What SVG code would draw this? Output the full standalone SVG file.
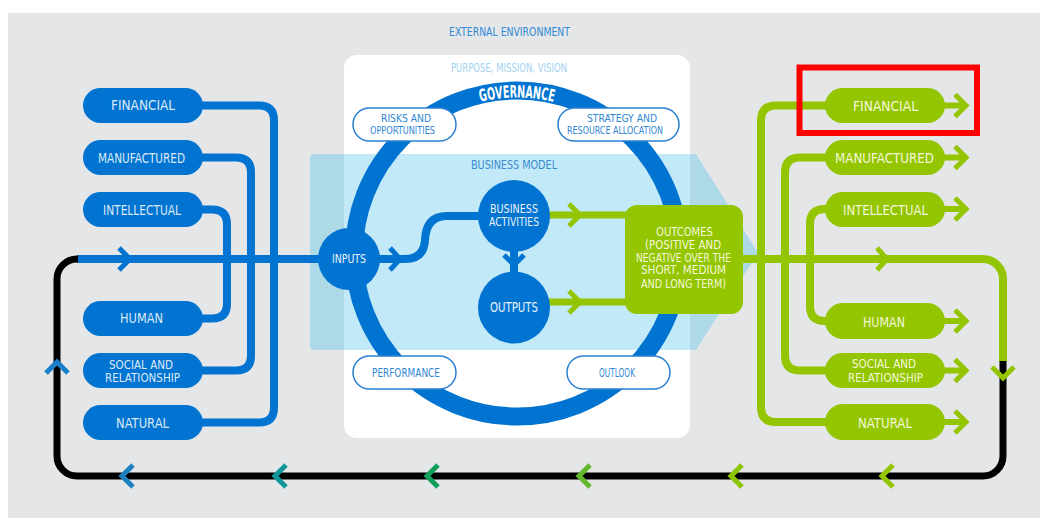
<svg xmlns="http://www.w3.org/2000/svg" width="1040" height="518" viewBox="0 0 1040 518">
<style>
.t{font-family:"DejaVu Sans Condensed","Liberation Sans Narrow","DejaVu Sans","Liberation Sans",sans-serif;font-stretch:condensed}
.bp{fill:#0074d0}
.gp{fill:#93c500}
.bt{fill:#dce9f7;font-size:14px}
.gt{fill:#f4f8da;font-size:14px}
.bl{fill:none;stroke:#0074d0;stroke-width:8}
.gl{fill:none;stroke:#93c500;stroke-width:8}
.ch{fill:none;stroke-width:5;stroke-linecap:butt;stroke-linejoin:miter}
.wp{fill:#fff;stroke:#2a80d2;stroke-width:1.5}
.ct{fill:#2f86d4;font-size:11px}
.wt{fill:#e9f1fb;font-size:12.5px}
.two{font-size:12.5px}
</style>
<defs>
<path id="govArc" d="M361,253.5 A156,156 0 0 1 673,253.5"/>
</defs>
<rect x="8" y="13" width="1032" height="505" fill="#e4e6e8"/>
<g id="panel">
<rect x="344" y="55" width="346" height="383" rx="13" fill="#fff"/>
<path d="M314,154 H696 L758,253 L696,350 H314 Q310,350 310,346 V158 Q310,154 314,154 Z" fill="#aed9e7"/>
<rect x="344" y="154" width="346" height="196" fill="#c2e9f8"/>
<circle cx="517" cy="253.5" r="163" fill="none" stroke="#0074d0" stroke-width="18"/>
<text class="t" x="449" y="36" textLength="121" lengthAdjust="spacingAndGlyphs" style="fill:#2e8ad6;font-size:12px">EXTERNAL ENVIRONMENT</text>
<text class="t" x="451" y="71.5" textLength="116" lengthAdjust="spacingAndGlyphs" style="fill:#a3d2f2;font-size:12px">PURPOSE, MISSION, VISION</text>
<text class="t" style="fill:#fff;font-size:17px;font-weight:bold" text-anchor="middle"><textPath href="#govArc" startOffset="50%" textLength="74" lengthAdjust="spacingAndGlyphs">GOVERNANCE</textPath></text>
<text class="t" x="471" y="169" textLength="86" lengthAdjust="spacingAndGlyphs" style="fill:#3a8ad2;font-size:12px">BUSINESS MODEL</text>
</g>
<g id="risks">
<rect class="wp" x="353" y="108" width="103" height="33" rx="16.5"/>
<text class="t ct" x="381" y="122.3" textLength="50" lengthAdjust="spacingAndGlyphs">RISKS AND</text>
<text class="t ct" x="370" y="134" textLength="65" lengthAdjust="spacingAndGlyphs">OPPORTUNITIES</text>
</g>
<g id="strategy">
<rect class="wp" x="558" y="108" width="121" height="33" rx="16.5"/>
<text class="t ct" x="587" y="122.3" textLength="70" lengthAdjust="spacingAndGlyphs">STRATEGY AND</text>
<text class="t ct" x="567" y="134" textLength="96" lengthAdjust="spacingAndGlyphs">RESOURCE ALLOCATION</text>
</g>
<g id="performance">
<rect class="wp" x="353" y="356" width="103" height="33" rx="16.5"/>
<text class="t ct" x="372" y="377.3" textLength="68" lengthAdjust="spacingAndGlyphs" style="font-size:12.5px">PERFORMANCE</text>
</g>
<g id="outlook">
<rect class="wp" x="567" y="356" width="103" height="33" rx="16.5"/>
<text class="t ct" x="599" y="377.3" textLength="36" lengthAdjust="spacingAndGlyphs" style="font-size:12.5px">OUTLOOK</text>
</g>
<g id="connectors">
<path class="bl" d="M198,105.5 H259 Q274,105.5 274,120.5 V407.5 Q274,422.5 259,422.5 H198"/>
<path class="bl" d="M198,157.5 H236 Q251,157.5 251,172.5 V355.5 Q251,370.5 236,370.5 H198"/>
<path class="bl" d="M198,209.5 H212 Q227,209.5 227,224.5 V303.5 Q227,318.5 212,318.5 H198"/>
<path class="bl" d="M77,259 H350"/>
<path class="bl" d="M375,259 H405 Q424,259 425,240 Q426,216 447,216 H485"/>
<path class="bl" d="M514,245 V278"/>
<path class="gl" style="stroke-width:7" d="M545,215 H632"/>
<path class="gl" style="stroke-width:7" d="M545,302 H632"/>
<path class="gl" d="M830,105.5 H776 Q761,105.5 761,120.5 V407 Q761,422 776,422 H830"/>
<path class="gl" d="M830,157.5 H800 Q785,157.5 785,172.5 V355.5 Q785,370.5 800,370.5 H830"/>
<path class="gl" d="M830,209 H825 Q810,209 810,224 V306 Q810,321 825,321 H830"/>
<path class="gl" d="M1003,362 V279 A20,20 0 0 0 983,259 H735"/>
<path fill="none" stroke="#000" stroke-width="7" d="M78,259 H77 A20,20 0 0 0 57,279 V456 A20,20 0 0 0 77,476 H983 A20,20 0 0 0 1003,456 V361"/>
<g stroke="#93c500" stroke-width="6" fill="none">
<path d="M940,105.5 H965"/><path d="M940,157.5 H965"/><path d="M940,209 H965"/>
<path d="M940,321 H965"/><path d="M940,370.5 H965"/><path d="M940,422 H965"/>
</g>
<g class="ch" stroke="#93c500">
<path d="M955,94.5 L966,105.5 L955,116.5"/>
<path d="M955,146.5 L966,157.5 L955,168.5"/>
<path d="M955,198 L966,209 L955,220"/>
<path d="M955,310 L966,321 L955,332"/>
<path d="M955,359.5 L966,370.5 L955,381.5"/>
<path d="M955,411 L966,422 L955,433"/>
<path d="M877,248 L887,259 L877,270"/>
<path d="M992,367 L1003,378 L1014,367"/>
<path d="M569,204 L580,215 L569,226"/>
<path d="M569,291 L580,302 L569,313"/>
</g>
<g class="ch" stroke="#0074d0">
<path d="M119,248 L130,259 L119,270"/>
<path d="M390,248 L400,259 L390,270"/>
<path d="M504,255 L514,265 L524,255"/>
</g>
<path class="ch" stroke="#1a7fc8" d="M46,373 L57,362 L68,373"/>
<path class="ch" stroke="#1f80c0" d="M133,465 L122,476 L133,487"/>
<path class="ch" stroke="#11979a" d="M286,465 L275,476 L286,487"/>
<path class="ch" stroke="#12a05c" d="M438,465 L427,476 L438,487"/>
<path class="ch" stroke="#62b82a" d="M590,465 L579,476 L590,487"/>
<path class="ch" stroke="#8ec400" d="M742,465 L731,476 L742,487"/>
<path class="ch" stroke="#93c600" d="M893,465 L882,476 L893,487"/>
</g>
<g id="inputs">
<circle cx="349" cy="259" r="31" fill="#0074d0"/>
<text class="t wt" x="332" y="263" textLength="34" lengthAdjust="spacingAndGlyphs" style="font-size:12px">INPUTS</text>
</g>
<g id="business-activities">
<circle cx="514" cy="216" r="36" fill="#0074d0"/>
<text class="t wt" x="490" y="213.3" textLength="48" lengthAdjust="spacingAndGlyphs" style="font-size:12px">BUSINESS</text>
<text class="t wt" x="489" y="226" textLength="50" lengthAdjust="spacingAndGlyphs" style="font-size:12px">ACTIVITIES</text>
</g>
<g id="outputs">
<circle cx="514" cy="307.5" r="36" fill="#0074d0"/>
<text class="t wt" x="490" y="311.7" textLength="48" lengthAdjust="spacingAndGlyphs" style="font-size:13.5px">OUTPUTS</text>
</g>
<g id="outcomes">
<rect x="625" y="205" width="118" height="109" rx="12" fill="#93c500"/>
<g class="t" style="fill:#f4f8da;font-size:12px">
<text x="656" y="236" textLength="57" lengthAdjust="spacingAndGlyphs">OUTCOMES</text>
<text x="645" y="249.3" textLength="76" lengthAdjust="spacingAndGlyphs">(POSITIVE AND</text>
<text x="636" y="261.7" textLength="95" lengthAdjust="spacingAndGlyphs">NEGATIVE OVER THE</text>
<text x="641" y="274.3" textLength="85" lengthAdjust="spacingAndGlyphs">SHORT, MEDIUM</text>
<text x="641" y="288.3" textLength="85" lengthAdjust="spacingAndGlyphs">AND LONG TERM)</text>
</g>
</g>
<g id="in-financial"><rect class="bp" x="83" y="88" width="120" height="35" rx="17.5"/><text class="t bt" x="111" y="110" textLength="64" lengthAdjust="spacingAndGlyphs">FINANCIAL</text></g>
<g id="in-manufactured"><rect class="bp" x="83" y="140" width="120" height="35" rx="17.5"/><text class="t bt" x="98" y="162.5" textLength="87" lengthAdjust="spacingAndGlyphs">MANUFACTURED</text></g>
<g id="in-intellectual"><rect class="bp" x="83" y="192" width="120" height="35" rx="17.5"/><text class="t bt" x="103" y="215" textLength="78" lengthAdjust="spacingAndGlyphs">INTELLECTUAL</text></g>
<g id="in-human"><rect class="bp" x="83" y="301" width="120" height="35" rx="17.5"/><text class="t bt" x="120" y="322.5" textLength="43" lengthAdjust="spacingAndGlyphs">HUMAN</text></g>
<g id="in-social"><rect class="bp" x="83" y="353" width="120" height="35" rx="17.5"/><text class="t bt two" x="109" y="369" textLength="64" lengthAdjust="spacingAndGlyphs">SOCIAL AND</text><text class="t bt two" x="105" y="382" textLength="75" lengthAdjust="spacingAndGlyphs">RELATIONSHIP</text></g>
<g id="in-natural"><rect class="bp" x="83" y="405" width="120" height="35" rx="17.5"/><text class="t bt" x="116" y="427.5" textLength="53" lengthAdjust="spacingAndGlyphs">NATURAL</text></g>
<g id="out-financial"><rect class="gp" x="825" y="88" width="120" height="35" rx="17.5"/><text class="t gt" x="853" y="110.5" textLength="65" lengthAdjust="spacingAndGlyphs">FINANCIAL</text></g>
<g id="out-manufactured"><rect class="gp" x="825" y="140" width="120" height="35" rx="17.5"/><text class="t gt" x="835" y="162.5" textLength="99" lengthAdjust="spacingAndGlyphs">MANUFACTURED</text></g>
<g id="out-intellectual"><rect class="gp" x="825" y="192" width="120" height="35" rx="17.5"/><text class="t gt" x="843" y="215" textLength="85" lengthAdjust="spacingAndGlyphs">INTELLECTUAL</text></g>
<g id="out-human"><rect class="gp" x="825" y="303" width="120" height="36" rx="18"/><text class="t gt" x="863" y="326.5" textLength="42" lengthAdjust="spacingAndGlyphs">HUMAN</text></g>
<g id="out-social"><rect class="gp" x="825" y="353" width="120" height="35" rx="17.5"/><text class="t gt two" x="852" y="368" textLength="64" lengthAdjust="spacingAndGlyphs">SOCIAL AND</text><text class="t gt two" x="848" y="382" textLength="75" lengthAdjust="spacingAndGlyphs">RELATIONSHIP</text></g>
<g id="out-natural"><rect class="gp" x="825" y="404" width="120" height="36" rx="18"/><text class="t gt" x="858" y="428" textLength="54" lengthAdjust="spacingAndGlyphs">NATURAL</text></g>
<rect id="highlight" x="799.5" y="67.5" width="177.5" height="65.5" fill="none" stroke="#ff0000" stroke-width="6"/>
</svg>
